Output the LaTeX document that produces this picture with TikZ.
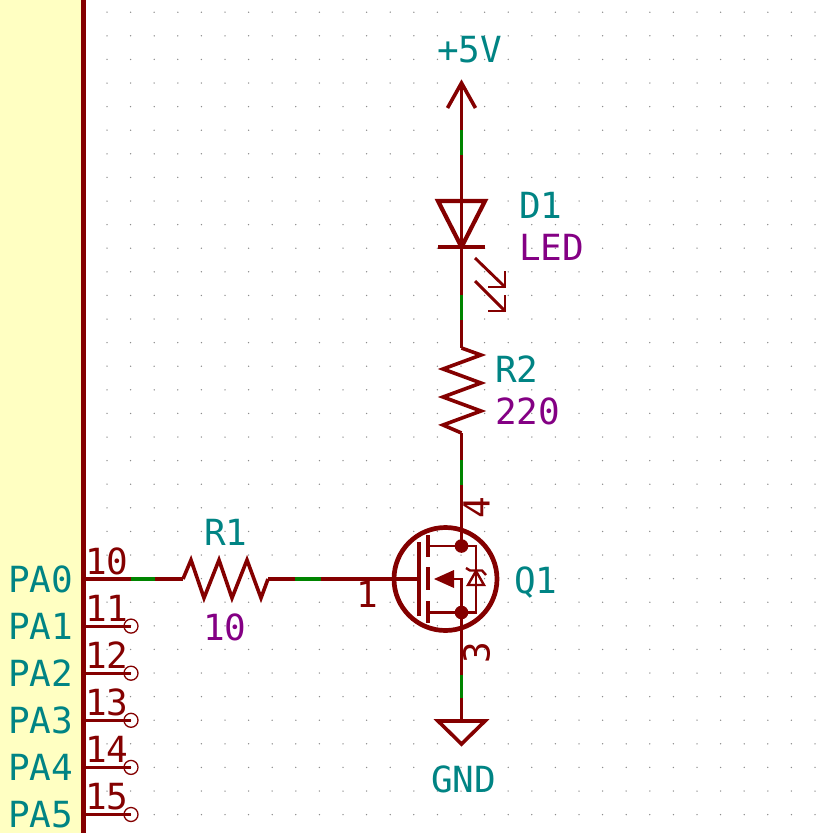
\documentclass[tikz,border=0pt]{standalone}
\usepackage{fontspec}
\setmonofont{DejaVu Sans Mono}
\definecolor{wirered}{HTML}{840000}
\definecolor{wiregreen}{HTML}{008400}
\definecolor{refteal}{HTML}{008484}
\definecolor{valpurple}{HTML}{840084}
\definecolor{chipyellow}{HTML}{FFFFC2}
\tikzset{
  wire/.style={draw=wirered, line width=3.5pt},
  seg/.style={draw=wiregreen, line width=3.5pt},
  sym/.style={draw=wirered, line width=3.6pt, line join=miter},
  thin sym/.style={draw=wirered, line width=2.9pt},
  txt/.style={font=\ttfamily\fontsize{36}{36}\selectfont, inner sep=0pt, anchor=base west},
  reflab/.style={txt, text=refteal},
  vallab/.style={txt, text=valpurple},
  pinlab/.style={txt, text=wirered},
}
\begin{document}
\begin{tikzpicture}[x=1pt, y=-1pt]
\clip (0,0) rectangle (819,833);
\fill[white] (0,0) rectangle (819,833);
% grid
\foreach \i in {0,...,30}{
  \foreach \j in {0,...,34}{
    \fill[gray!90] (107+\i*23.6,12.2+\j*23.6) circle (.75);
  }
}
% chip
\fill[chipyellow] (0,0) rectangle (83,833);
\draw[wirered, line width=5pt] (83.5,0)--(83.5,833);
\foreach \n/\lab/\num [count=\k from 0] in {pa0/PA0/10,pa1/PA1/11,pa2/PA2/12,pa3/PA3/13,pa4/PA4/14,pa5/PA5/15}{
  \node[reflab] (\n) at (8,592+\k*47.1){\lab};
  \node[pinlab] (num\n) at (85,574+\k*47.1){\num};
}
% unconnected pins
\foreach \k in {1,...,5}{
  \coordinate (pinl\k) at (84,579+\k*47.1);
  \coordinate (pinr\k) at (131,579+\k*47.1);
  \draw[thin sym] (pinl\k)--(pinr\k);
  \draw[wirered, line width=1.3pt] (pinr\k) circle (7);
}
% gate wire
\coordinate (pin10) at (84,579);
\coordinate (r1a) at (183,579);
\coordinate (r1b) at (268,579);
\coordinate (gate) at (419,579);
\draw[wire] (pin10)--(r1a);
\draw[seg] (131,579)--(155,579);
\draw[sym] (r1a)--(191,560)--(204,598)--(219,560)--(232,598)--(247,560)--(261,598)--(r1b);
\draw[wire] (r1b)--(gate);
\draw[seg] (295,579)--(321,579);
\node[reflab] (r1) at (204,545){R1};
\node[vallab] (r1val) at (203,640){10};
\node[pinlab] (pin1) at (356,607){1};
% +5V and led
\coordinate (vcc) at (461.5,83);
\coordinate (ledk) at (461.5,247);
\coordinate (r2a) at (461.5,348);
\coordinate (r2b) at (461.5,433);
\coordinate (drain) at (461.5,546);
\coordinate (source) at (461.5,612.5);
\coordinate (gnd) at (461.5,721);
\draw[wire] (vcc)--(ledk);
\draw[seg] (461.5,130)--(461.5,155);
\draw[sym] (447.5,108)--(vcc)--(475.5,108);
\node[reflab] (vcclab) at (437,62){+5V};
\draw[sym, line width=4.2pt] (ledk)--(438,201)--(485,201)--cycle;
\draw[sym, line width=4.2pt] (438,247)--(485,247);
\draw[wire] (ledk)--(r2a);
\draw[seg] (461.5,295)--(461.5,320);
\draw[thin sym] (475,258)--(505,287);
\draw[thin sym] (488,287)--(505,287)--(505,271);
\draw[thin sym] (475,281)--(505,311);
\draw[thin sym] (488,311)--(505,311)--(505,295);
\node[reflab] (d1) at (519,218){D1};
\node[vallab] (d1val) at (519,260){LED};
% r2
\draw[sym] (r2a)--(481,355)--(443,369)--(481,383)--(443,397)--(481,411)--(443,425)--(r2b);
\draw[wire] (r2b)--(drain);
\draw[seg] (461.5,460)--(461.5,485);
\node[reflab] (r2) at (495,382){R2};
\node[vallab] (r2val) at (495,424){220};
% mosfet
\node[circle, draw=wirered, line width=4.7pt, minimum size=103pt, inner sep=0pt] (q1) at (445.5,579){};
\draw[wirered, line width=4.7pt] (419,542)--(419,616);
\foreach \ya/\yb in {535/557,567/590,601/623}{
  \draw[wirered, line width=4.7pt] (428,\ya)--(428,\yb);
}
\draw[thin sym] (428,546)--(476,546)--(476,612.5)--(428,612.5);
\draw[thin sym] (453,579)--(461.5,579)--(source);
\fill[wirered] (434,579)--(454,570)--(454,588)--cycle;
\fill[wirered] (drain) circle (6.8);
\fill[wirered] (source) circle (6.8);
\draw[wirered, line width=2.4pt] (476,571)--(468,585)--(484,585)--cycle;
\draw[wirered, line width=2.4pt] (466,568)--(470,570.5)--(482,570.5)--(486,575);
\draw[wire] (source)--(gnd);
\draw[seg] (461.5,675)--(461.5,698);
\draw[sym] (gnd)--(438,721)--(461.5,744)--(485,721)--cycle;
\node[txt, text=wirered, rotate=90, anchor=center] (pin4) at (476.5,507.5){4};
\node[txt, text=wirered, rotate=90, anchor=center] (pin3) at (476.5,652.5){3};
\node[reflab] (q1lab) at (514,593){Q1};
\node[reflab] (gndlab) at (431,792){GND};
\end{tikzpicture}
\end{document}
